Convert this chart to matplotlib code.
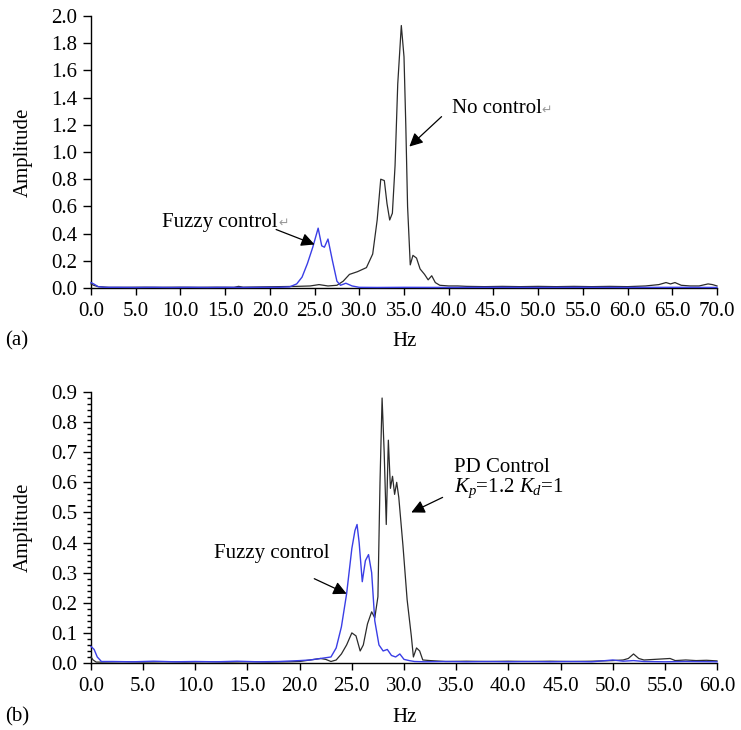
import numpy as np
import matplotlib
matplotlib.use("Agg")
import matplotlib.pyplot as plt
from matplotlib.ticker import MultipleLocator, AutoMinorLocator

plt.rcParams['font.family'] = ['Liberation Serif', 'DejaVu Sans']
plt.rcParams['font.size'] = 15
plt.rcParams['mathtext.fontset'] = 'custom'
plt.rcParams['mathtext.rm'] = 'Liberation Serif'
plt.rcParams['mathtext.it'] = 'Liberation Serif:italic'

# -------------------------------------------------------------------
# DATOS
# -------------------------------------------------------------------

# --- (a) Sin control / control difuso ---
hz_a_nc = [0, 0.3, 0.8, 2, 4, 6, 8, 10, 12, 14, 16, 16.5, 17, 19, 21, 23, 24.5,
           25.5, 26.5, 27.5, 28.2, 28.9, 29.8, 30.8, 31.5, 32.0, 32.4, 32.8,
           33.1, 33.4, 33.7, 34.0, 34.3, 34.7, 35.0, 35.2, 35.4, 35.7, 36.0,
           36.4, 36.8, 37.3, 37.7, 38.1, 38.5, 39.0, 40, 41, 42, 44, 46, 48,
           50, 52, 54, 56, 58, 60, 62, 63.5, 64.3, 64.8, 65.3, 66, 67, 68, 69,
           69.5, 70]
amp_a_nc = [0.03, 0.02, 0.01, 0.005, 0.005, 0.006, 0.005, 0.006, 0.005, 0.006,
            0.005, 0.012, 0.006, 0.008, 0.01, 0.012, 0.015, 0.025, 0.015, 0.02,
            0.05, 0.1, 0.12, 0.15, 0.25, 0.5, 0.8, 0.79, 0.62, 0.5, 0.55, 0.9,
            1.5, 1.93, 1.7, 1.2, 0.6, 0.17, 0.24, 0.22, 0.14, 0.1, 0.06, 0.09,
            0.04, 0.02, 0.015, 0.015, 0.012, 0.01, 0.012, 0.01, 0.012, 0.01,
            0.012, 0.01, 0.012, 0.01, 0.015, 0.025, 0.04, 0.03, 0.04, 0.02,
            0.015, 0.015, 0.03, 0.025, 0.015]

hz_a_fz = [0, 0.3, 0.8, 1.5, 3, 5, 7, 9, 11, 13, 15, 17, 19, 21, 22.2, 23.0,
           23.6, 24.2, 24.8, 25.4, 25.8, 26.1, 26.5, 27.0, 27.5, 27.9, 28.5,
           29.2, 30, 32, 35, 40, 45, 50, 55, 60, 65, 70]
amp_a_fz = [0.04, 0.03, 0.01, 0.005, 0.005, 0.004, 0.005, 0.004, 0.005, 0.004,
            0.005, 0.004, 0.005, 0.005, 0.008, 0.03, 0.08, 0.18, 0.3, 0.44,
            0.31, 0.3, 0.36, 0.2, 0.05, 0.02, 0.035, 0.015, 0.005, 0.004,
            0.005, 0.004, 0.005, 0.004, 0.005, 0.004, 0.005, 0.004]

# --- (b) Control PD / control difuso ---
hz_b_pd = [0, 0.2, 0.5, 1, 3, 5, 7, 9, 11, 13, 15, 17, 19, 20, 21, 22, 22.5,
           23, 23.5, 24, 24.5, 25.0, 25.4, 25.8, 26.1, 26.5, 26.9, 27.2, 27.5,
           27.7, 27.9, 28.1, 28.3, 28.5, 28.7, 28.9, 29.1, 29.3, 29.5, 29.9,
           30.3, 30.7, 30.9, 31.2, 31.5, 31.8, 32.5, 34, 36, 38, 40, 42, 44,
           46, 48, 50, 51, 51.5, 52, 52.5, 53, 54, 55.5, 56, 57, 58, 59, 60]
amp_b_pd = [0.02, 0.01, 0.003, 0.003, 0.004, 0.003, 0.004, 0.003, 0.004,
            0.003, 0.004, 0.003, 0.004, 0.005, 0.01, 0.015, 0.012, 0.005,
            0.01, 0.03, 0.06, 0.1, 0.09, 0.04, 0.06, 0.13, 0.17, 0.15, 0.22,
            0.6, 0.88, 0.7, 0.46, 0.74, 0.58, 0.62, 0.56, 0.6, 0.55, 0.39,
            0.21, 0.09, 0.02, 0.05, 0.04, 0.01, 0.008, 0.005, 0.006, 0.005,
            0.006, 0.005, 0.006, 0.005, 0.006, 0.008, 0.01, 0.015, 0.03,
            0.015, 0.01, 0.012, 0.015, 0.008, 0.01, 0.008, 0.009, 0.007]

hz_b_fz = [0, 0.3, 0.6, 1.0, 2, 4, 6, 8, 10, 12, 14, 16, 18, 20, 21, 22, 23,
           23.5, 24.0, 24.5, 25.0, 25.3, 25.5, 25.7, 26.0, 26.3, 26.6, 26.9,
           27.2, 27.6, 28.0, 28.4, 28.8, 29.2, 29.6, 30.0, 30.5, 31, 32, 34,
           36, 38, 40, 42, 44, 46, 48, 50, 51, 52, 53, 55, 57, 60]
amp_b_fz = [0.055, 0.045, 0.02, 0.005, 0.005, 0.004, 0.006, 0.004, 0.005,
            0.004, 0.006, 0.004, 0.005, 0.008, 0.01, 0.015, 0.02, 0.05, 0.12,
            0.23, 0.38, 0.44, 0.46, 0.4, 0.27, 0.34, 0.36, 0.3, 0.14, 0.06,
            0.04, 0.045, 0.025, 0.02, 0.03, 0.012, 0.008, 0.005, 0.004, 0.005,
            0.004, 0.005, 0.004, 0.005, 0.004, 0.005, 0.004, 0.01, 0.006,
            0.008, 0.005, 0.004, 0.005, 0.004]

ticks_a = np.arange(0, 70.1, 5)
ticks_b = np.arange(0, 60.1, 5)

color_negro = '#2b2b2b'
color_azul = '#3a3ee6'

# -------------------------------------------------------------------
# FIGURA
# -------------------------------------------------------------------
W, H = 741, 730
fig = plt.figure(figsize=(W / 100, H / 100), dpi=100)
ax_a = fig.add_axes([91 / W, 1 - 288 / H, 626 / W, 272 / H])
ax_b = fig.add_axes([91 / W, 1 - 663 / H, 626 / W, 271 / H])


def px(x, y):
    # coordenadas en píxeles (origen arriba-izquierda) -> fracción de figura
    return x / W, 1 - y / H


def estilo(ax, xmax, ymax, ystep, xticks):
    for s in ['top', 'right']:
        ax.spines[s].set_visible(False)
    ax.set_xlim(0, xmax)
    ax.set_ylim(0, ymax)
    ax.set_xticks(xticks)
    ax.set_xticklabels([f'{v:.1f}' for v in xticks])
    ax.yaxis.set_major_locator(MultipleLocator(ystep))
    ax.yaxis.set_major_formatter(plt.FormatStrFormatter('%.1f'))
    ax.tick_params(axis='y', direction='out', length=6, width=1, labelsize=15, pad=4)
    ax.tick_params(axis='x', direction='out', length=5, width=1, labelsize=15, pad=5)
    for sp in ax.spines.values():
        sp.set_linewidth(1.0)


flecha = dict(arrowstyle='-|>', color='black', lw=0.9, mutation_scale=20,
              shrinkA=0, shrinkB=0)

# --- (a) ---
ax_a.plot(hz_a_nc, amp_a_nc, color=color_negro, lw=0.9, zorder=3, clip_on=False)
ax_a.plot(hz_a_fz, amp_a_fz, color=color_azul, lw=1.0, zorder=3, clip_on=False)
estilo(ax_a, 70, 2.0, 0.2, ticks_a)
ax_a.text(20.9, 0.485, 'Fuzzy control', ha='right', va='center', fontsize=15)
ax_a.text(21.0, 0.475, '\u21b5', ha='left', va='center', fontsize=9, color='#999999',
          family=['DejaVu Sans'])
ax_a.annotate('', xy=(25.0, 0.32), xytext=(20.7, 0.43), arrowprops=flecha)
ax_a.text(40.4, 1.32, 'No control', ha='left', va='center', fontsize=15)
ax_a.text(50.4, 1.305, '\u21b5', ha='left', va='center', fontsize=9, color='#999999',
          family=['DejaVu Sans'])
ax_a.annotate('', xy=(35.6, 1.04), xytext=(39.2, 1.26), arrowprops=flecha)
fig.text(*px(23, 152), 'Amplitude', rotation=90, ha='center', va='center', fontsize=15)
fig.text(*px(405, 341), 'Hz', ha='center', va='center', fontsize=15)
fig.text(*px(5, 341), '(a)', ha='left', va='center', fontsize=15)

# --- (b) ---
ax_b.plot(hz_b_pd, amp_b_pd, color=color_negro, lw=0.9, zorder=3, clip_on=False)
ax_b.plot(hz_b_fz, amp_b_fz, color=color_azul, lw=1.0, zorder=3, clip_on=False)
estilo(ax_b, 60, 0.9, 0.1, ticks_b)
ax_b.yaxis.set_minor_locator(AutoMinorLocator(5))
ax_b.tick_params(axis='y', which='minor', direction='out', length=3, width=1)
ax_b.text(17.3, 0.365, 'Fuzzy control', ha='center', va='center', fontsize=15)
ax_b.annotate('', xy=(24.5, 0.23), xytext=(21.4, 0.28), arrowprops=flecha)
ax_b.text(34.8, 0.648, 'PD Control', ha='left', va='center', fontsize=15)
ax_b.text(34.8, 0.581, '$K_p$=1.2 $K_d$=1', ha='left', va='center', fontsize=15)
ax_b.annotate('', xy=(30.7, 0.50), xytext=(33.7, 0.55), arrowprops=flecha)
fig.text(*px(23, 527), 'Amplitude', rotation=90, ha='center', va='center', fontsize=15)
fig.text(*px(405, 718), 'Hz', ha='center', va='center', fontsize=15)
fig.text(*px(5, 717), '(b)', ha='left', va='center', fontsize=15)

fig.savefig('out.png', dpi=100)
